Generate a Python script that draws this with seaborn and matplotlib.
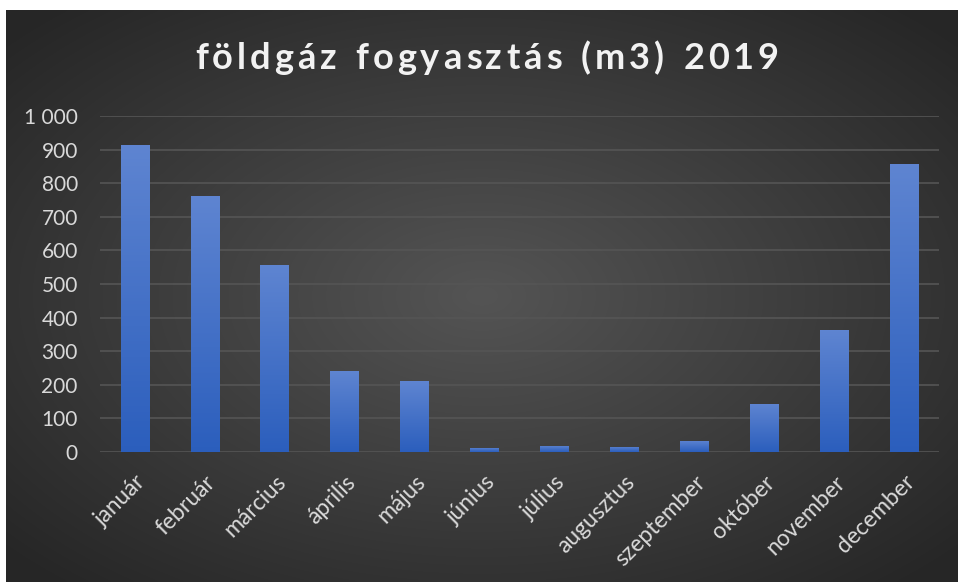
import matplotlib
matplotlib.use("Agg")
import matplotlib.pyplot as plt
import seaborn as sns
import numpy as np
import pandas as pd

# adatok
honapok = ["január", "február", "március", "április", "május", "június",
           "július", "augusztus", "szeptember", "október", "november", "december"]
fogyasztas = [914, 762, 557, 241, 211, 12, 18, 15, 33, 143, 363, 857]
y_ticks = [0, 100, 200, 300, 400, 500, 600, 700, 800, 900, 1000]
y_tick_labels = ["0", "100", "200", "300", "400", "500", "600", "700", "800", "900", "1 000"]
cim = "földgáz fogyasztás (m3) 2019"

df = pd.DataFrame({"honap": honapok, "m3": fogyasztas})

sns.set_style("dark")
plt.rcParams["font.family"] = ["Lato", "DejaVu Sans"]

W, H = 958, 582
fig = plt.figure(figsize=(W / 100, H / 100), dpi=100, facecolor="white")

# sötét, középen világosabb háttér
bg = fig.add_axes([6 / W, 0, (W - 6) / W, (H - 10) / H])
gx, gy = np.meshgrid(np.linspace(-1, 1, 400), np.linspace(-1, 1, 250))
r = np.clip(np.sqrt(gx ** 2 + gy ** 2) / 1.35, 0, 1)
shade = 0.33 - 0.18 * r
bg.imshow(np.dstack([shade, shade, shade]), aspect="auto", extent=[0, 1, 0, 1],
          interpolation="bilinear")
bg.set_axis_off()

ax = fig.add_axes([100 / W, 130 / H, 839 / W, 336 / H])
ax.set_facecolor("none")
sns.barplot(data=df, x="honap", y="m3", color="#3f6fca", width=0.41, ax=ax,
            zorder=3, linewidth=0, edgecolor="none")

# színátmenet az oszlopokra
grad = np.linspace(0, 1, 100).reshape(-1, 1)
top_c = np.array([0.37, 0.52, 0.82])
bot_c = np.array([0.17, 0.37, 0.74])
img = top_c * (1 - grad[..., None]) + bot_c * grad[..., None]
for p in ax.patches:
    x0, y0 = p.get_x(), p.get_y()
    w, h = p.get_width(), p.get_height()
    im = ax.imshow(img, extent=[x0, x0 + w, y0, y0 + h], aspect="auto", zorder=4)
    im.set_clip_path(p)

ax.set_xlim(-0.5, len(honapok) - 0.5)
ax.set_ylim(0, 1000)
ax.set_yticks(y_ticks)
ax.set_yticklabels(y_tick_labels)
ax.grid(axis="y", color="#555555", linewidth=1.2, zorder=1)
ax.grid(axis="x", visible=False)
for s in ax.spines.values():
    s.set_visible(False)
ax.tick_params(axis="y", colors="#d9d9d9", labelsize=15, length=0, pad=16)
ax.tick_params(axis="x", colors="#d9d9d9", labelsize=16.5, length=0, pad=14)
plt.setp(ax.get_xticklabels(), rotation=45, ha="right", rotation_mode="anchor")
ax.set_xlabel("")
ax.set_ylabel("")

# cím ritkított betűközzel, karakterenként
renderer = fig.canvas.get_renderer()
cim_kw = dict(fontsize=26, fontweight="bold", color="#f2f2f2", va="baseline")
spacing = 4.0
widths = []
for ch in cim:
    t = fig.text(0, 0, ch if ch != " " else "n", **cim_kw)
    bb = t.get_window_extent(renderer)
    widths.append(bb.width * (0.55 if ch == " " else 1.0))
    t.remove()
total = sum(widths) + spacing * (len(cim) - 1)
x = 487 - total / 2
for ch, wd in zip(cim, widths):
    if ch != " ":
        fig.text(x / W, 1 - 69 / H, ch, **cim_kw)
    x += wd + spacing

fig.savefig("out.png", dpi=100, facecolor="white")
plt.close()
